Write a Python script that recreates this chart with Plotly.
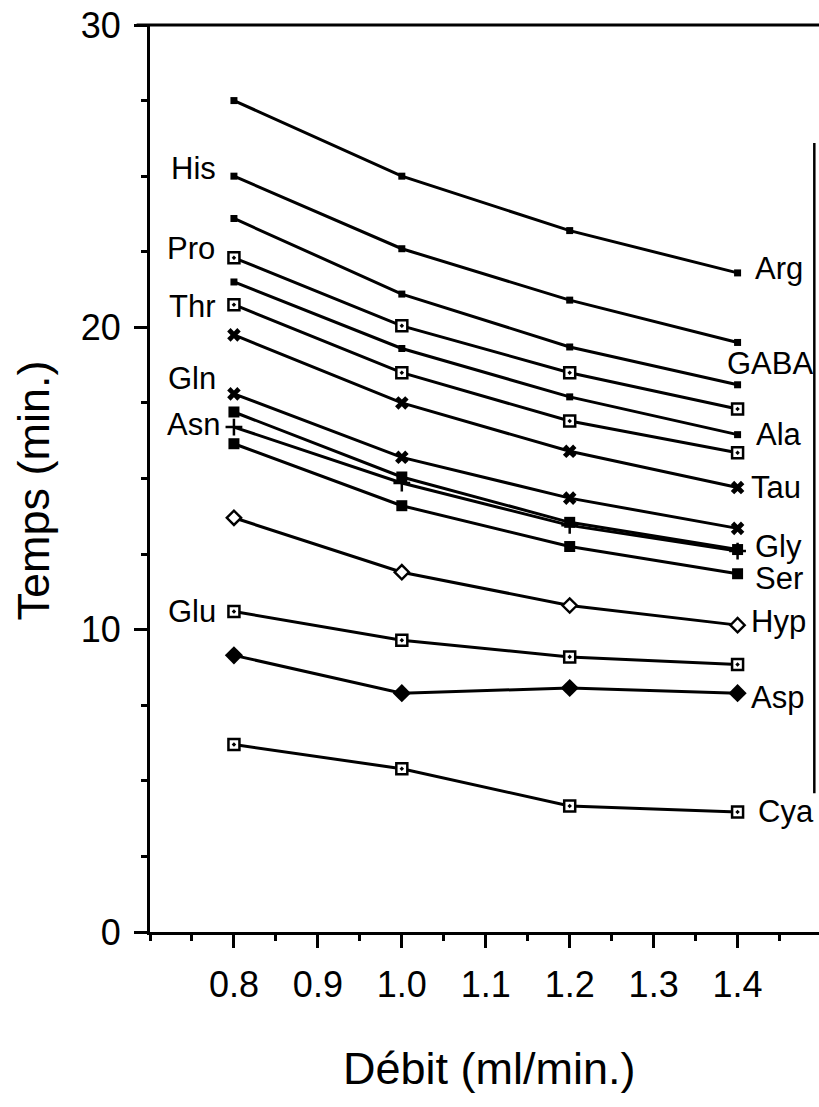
import plotly.graph_objects as go

# ---------------- data ----------------
debit = [0.8, 1.0, 1.2, 1.4]

Arg = [27.5, 25.0, 23.2, 21.8]
His = [25.0, 22.6, 20.9, 19.5]
GABA = [23.6, 21.1, 19.35, 18.1]
Pro = [22.3, 20.05, 18.5, 17.3]
Ala = [21.5, 19.3, 17.7, 16.45]
Thr = [20.75, 18.5, 16.9, 15.85]
Tau = [19.75, 17.5, 15.9, 14.7]
Gln = [17.8, 15.7, 14.35, 13.35]
Gly = [17.2, 15.05, 13.55, 12.65]
Asn = [16.7, 14.85, 13.45, 12.6]
Ser = [16.15, 14.1, 12.75, 11.85]
Hyp = [13.7, 11.9, 10.8, 10.15]
Glu = [10.6, 9.65, 9.1, 8.85]
Asp = [9.15, 7.9, 8.07, 7.9]
Cya = [6.2, 5.4, 4.17, 3.97]

x_tickvals = [0.8, 0.9, 1.0, 1.1, 1.2, 1.3, 1.4]
x_ticktext = ["0.8", "0.9", "1.0", "1.1", "1.2", "1.3", "1.4"]
y_tickvals = [0, 10, 20, 30]
y_ticktext = ["0", "10", "20", "30"]

series = [
    ("Arg", Arg), ("His", His), ("GABA", GABA), ("Pro", Pro), ("Ala", Ala),
    ("Thr", Thr), ("Tau", Tau), ("Gln", Gln), ("Gly", Gly), ("Asn", Asn),
    ("Ser", Ser), ("Hyp", Hyp), ("Glu", Glu), ("Asp", Asp), ("Cya", Cya),
]

# ---------------- styles ----------------
small_sq = dict(symbol="square", size=7, color="black", line=dict(width=0))
box_dot = dict(symbol="square-dot", size=11, color="white", line=dict(color="black", width=2.5))
big_sq = dict(symbol="square", size=11, color="black", line=dict(width=0))
xmark = dict(symbol="x", size=12, color="black", line=dict(width=0))
plus = dict(symbol="cross-thin", size=12, color="black", line=dict(color="black", width=2.5))
open_dia = dict(symbol="diamond", size=11, color="white", line=dict(color="black", width=2.4))
fill_dia = dict(symbol="diamond", size=14, color="black", line=dict(width=0))

marker_style = {
    "Arg": small_sq, "His": small_sq, "GABA": small_sq, "Pro": box_dot,
    "Ala": small_sq, "Thr": box_dot, "Tau": xmark, "Gln": xmark,
    "Gly": big_sq, "Asn": plus, "Ser": big_sq, "Hyp": open_dia,
    "Glu": box_dot, "Asp": fill_dia, "Cya": box_dot,
}

# label placement: (point index, xanchor, xshift px, yshift px)
label_pos = {
    "Arg": (3, "left", 15, 4),
    "GABA": (3, "left", -13, 21),
    "Ala": (3, "left", 16, 0),
    "Tau": (3, "left", 11, 0),
    "Gly": (3, "left", 15, 3),
    "Ser": (3, "left", 15, -5),
    "Hyp": (3, "left", 11, 4),
    "Asp": (3, "left", 11, -4),
    "Cya": (3, "left", 18, 0),
    "His": (0, "right", -16, 8),
    "Pro": (0, "right", -17, 9),
    "Thr": (0, "right", -16, -2),
    "Gln": (0, "right", -16, 15),
    "Asn": (0, "right", -12, 3),
    "Glu": (0, "right", -16, 0),
}

FONT = "Liberation Sans, Arial, Helvetica, sans-serif"

fig = go.Figure()
for name, vals in series:
    fig.add_trace(go.Scatter(
        x=debit, y=vals, mode="lines+markers", name=name,
        line=dict(color="black", width=3),
        marker=marker_style[name], showlegend=False, cliponaxis=False,
    ))

annotations = []
for name, vals in series:
    idx, anchor, xs, ys = label_pos[name]
    annotations.append(dict(
        x=debit[idx], y=vals[idx], xref="x", yref="y", text=name,
        showarrow=False, xanchor=anchor, yanchor="middle",
        xshift=xs, yshift=ys, font=dict(family=FONT, size=31, color="black"),
    ))

# axis titles
annotations.append(dict(
    x=0.508, y=0, xref="paper", yref="paper", text="Débit (ml/min.)",
    showarrow=False, xanchor="center", yanchor="middle", yshift=-136,
    font=dict(family=FONT, size=45, color="black"),
))
annotations.append(dict(
    x=0, y=0.5, xref="paper", yref="paper", text="Temps (min.)",
    showarrow=False, xanchor="center", yanchor="middle", xshift=-117, yshift=-12,
    textangle=-90, font=dict(family=FONT, size=45, color="black"),
))

fig.update_layout(
    width=819, height=1107,
    margin=dict(l=150, r=0, t=25, b=175),
    paper_bgcolor="white", plot_bgcolor="white",
    annotations=annotations,
    font=dict(family=FONT, color="black"),
    shapes=[
        dict(type="line", xref="paper", yref="paper", x0=-0.02, x1=1.0, y0=1.0, y1=1.0,
             line=dict(color="black", width=3)),
        dict(type="line", xref="paper", yref="paper", x0=0.993, x1=0.993, y0=0.153, y1=0.87,
             line=dict(color="black", width=2.5)),
    ],
)

fig.update_xaxes(
    range=[0.7, 1.497], showgrid=False, zeroline=False,
    showline=True, linecolor="black", linewidth=3,
    tickmode="array", tickvals=x_tickvals, ticktext=x_ticktext,
    ticks="outside", ticklen=13, tickwidth=2.5, tickcolor="black",
    minor=dict(ticks="outside", dtick=0.05, tick0=0.75, ticklen=6, tickwidth=2.5, tickcolor="black"),
    tickfont=dict(family=FONT, size=36, color="black"),
    ticklabelstandoff=6,
)
fig.update_yaxes(
    range=[0, 30], showgrid=False, zeroline=False,
    showline=True, linecolor="black", linewidth=3,
    tickmode="array", tickvals=y_tickvals, ticktext=y_ticktext,
    ticks="outside", ticklen=13, tickwidth=2.5, tickcolor="black",
    minor=dict(ticks="outside", dtick=2.5, tick0=0, ticklen=6, tickwidth=2.5, tickcolor="black"),
    tickfont=dict(family=FONT, size=36, color="black"),
    ticklabelstandoff=6,
)

fig.write_html("out.html")
